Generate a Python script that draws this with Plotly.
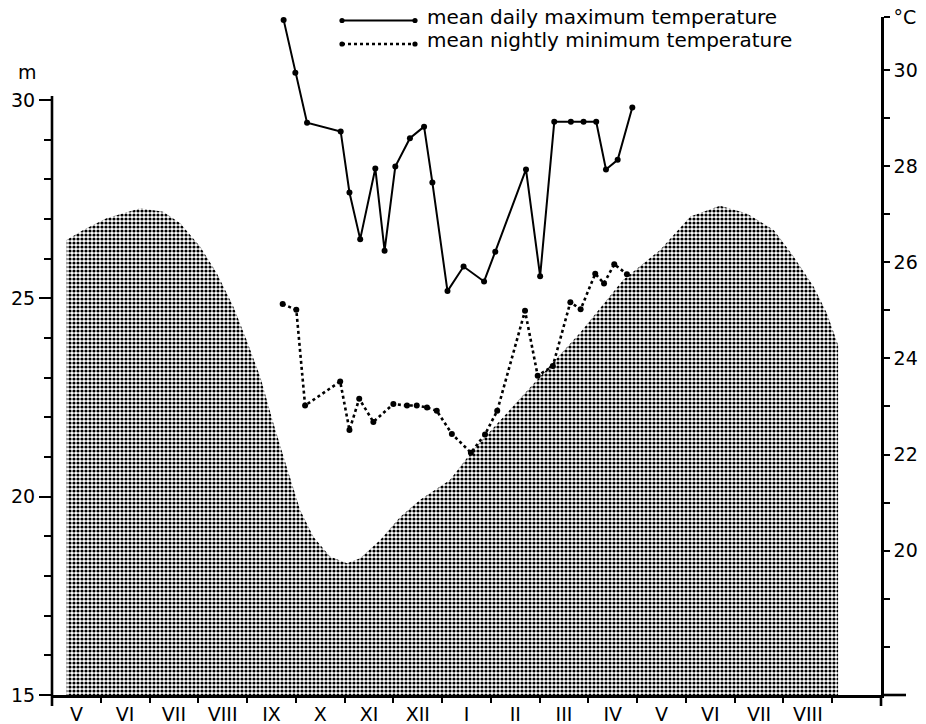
import plotly.graph_objects as go

# ---- data -------------------------------------------------------------
# x positions are in months counted from 1 May of the first year
month_labels = ["V", "VI", "VII", "VIII", "IX", "X", "XI", "XII",
                "I", "II", "III", "IV", "V", "VI", "VII", "VIII"]

# water level (m)
level_month = [0.30, 0.64, 1.12, 1.81, 2.28, 2.63, 3.04, 3.38, 3.72, 3.99,
               4.27, 4.54, 4.81, 5.09, 5.36, 5.70, 6.05, 6.32, 6.73, 7.14,
               7.55, 8.16, 8.64, 9.94, 10.83, 11.71, 12.47, 13.09, 13.70,
               14.25, 14.80, 15.21, 15.62, 15.89, 16.12]
level_m = [26.47, 26.72, 27.02, 27.27, 27.18, 26.89, 26.30, 25.63, 24.79,
           23.95, 23.02, 21.85, 20.76, 19.66, 18.99, 18.49, 18.32, 18.45,
           18.91, 19.49, 19.92, 20.42, 21.18, 22.94, 24.13, 25.46, 26.22,
           27.06, 27.33, 27.14, 26.72, 26.05, 25.29, 24.62, 23.82]

# mean daily maximum temperature (deg C)
tmax_month = [4.75, 4.99, 5.23, 5.92, 6.10, 6.32, 6.63, 6.82, 7.04, 7.34,
              7.63, 7.80, 8.11, 8.44, 8.86, 9.09, 9.72, 10.01, 10.30, 10.64,
              10.90, 11.16, 11.36, 11.60, 11.90]
tmax_c = [31.04, 29.94, 28.90, 28.72, 27.45, 26.48, 27.95, 26.24, 27.99,
          28.58, 28.82, 27.66, 25.40, 25.91, 25.60, 26.22, 27.93, 25.71,
          28.92, 28.92, 28.92, 28.92, 27.93, 28.13, 29.22]

# mean nightly minimum temperature (deg C)
tmin_month = [4.73, 5.01, 5.19, 5.91, 6.10, 6.30, 6.59, 7.00, 7.28, 7.48,
              7.69, 7.89, 8.20, 8.59, 8.88, 9.13, 9.70, 9.96, 10.27, 10.63,
              10.84, 11.14, 11.32, 11.53, 11.79]
tmin_c = [25.13, 25.01, 23.02, 23.52, 22.51, 23.16, 22.68, 23.05, 23.02,
          23.02, 22.98, 22.91, 22.43, 22.04, 22.42, 22.91, 24.99, 23.64,
          23.84, 25.17, 25.02, 25.76, 25.56, 25.96, 25.75]

legend_labels = ["mean daily maximum temperature",
                 "mean nightly minimum temperature"]

# ---- layout geometry (pixels) -----------------------------------------
W, H = 926, 724
ML, MR, MT, MB = 52, 45, 17, 29
PW, PH = W - ML - MR, H - MT - MB
X_RANGE = [0, 17]
T_RANGE = [17, 31.1]
M_PER_PX = 1 / 39.67
M_RANGE = [15, 15 + PH * M_PER_PX]

FONT = "DejaVu Sans"
INK = "black"


def px_x(px):
    return (px - ML) / PW


def px_y(py):
    return (H - MB - py) / PH


fig = go.Figure()

# shaded water level
fig.add_trace(go.Scatter(
    x=level_month, y=level_m, yaxis="y", mode="lines",
    line=dict(width=0, color="rgba(0,0,0,0)"), fill="tozeroy",
    fillpattern=dict(shape=".", fgcolor=INK, bgcolor="white",
                     size=4, solidity=0.5, fillmode="replace"),
    showlegend=False, hoverinfo="skip"))

# temperatures
fig.add_trace(go.Scatter(
    x=tmax_month, y=tmax_c, yaxis="y2", mode="lines+markers",
    line=dict(color=INK, width=2), marker=dict(color=INK, size=6),
    cliponaxis=False, showlegend=False, name=legend_labels[0]))
fig.add_trace(go.Scatter(
    x=tmin_month, y=tmin_c, yaxis="y2", mode="lines+markers",
    line=dict(color=INK, width=2.6, dash="dot"),
    marker=dict(color=INK, size=6),
    cliponaxis=False, showlegend=False, name=legend_labels[1]))

shapes = []
# left axis line (stops just above the 30 m tick), running a little below x axis
shapes.append(dict(type="line", xref="paper", yref="paper",
                   x0=0, x1=0, y0=px_y(706), y1=px_y(96),
                   line=dict(color=INK, width=2.6)))
# right axis runs a little below the x axis
shapes.append(dict(type="line", xref="paper", yref="paper",
                   x0=1, x1=1, y0=px_y(706), y1=0,
                   line=dict(color=INK, width=2.6)))
# x axis continues past the right axis
shapes.append(dict(type="line", xref="paper", yref="paper",
                   x0=1, x1=px_x(906), y0=0, y1=0,
                   line=dict(color=INK, width=2.6)))

# legend keys
key_x0, key_x1 = px_x(342), px_x(415)
for row, (py, dash) in enumerate([(20.5, "solid"), (44, "dot")]):
    yy = px_y(py)
    shapes.append(dict(type="line", xref="paper", yref="paper",
                       x0=key_x0, x1=key_x1, y0=yy, y1=yy,
                       line=dict(color=INK, width=2 if dash == "solid" else 2.6,
                                 dash=dash)))
    for kx in (342, 415):
        r = 2.6
        shapes.append(dict(type="circle", xref="paper", yref="paper",
                           x0=px_x(kx - r), x1=px_x(kx + r),
                           y0=px_y(py + r), y1=px_y(py - r),
                           fillcolor=INK, line=dict(width=0)))

annotations = []
for py, text in zip([17, 40.5], legend_labels):
    annotations.append(dict(text=text, xref="paper", yref="paper",
                            x=px_x(425), y=px_y(py), xanchor="left",
                            yanchor="middle", showarrow=False,
                            font=dict(family=FONT, size=20, color=INK)))
annotations.append(dict(text="m", xref="paper", yref="paper",
                        x=px_x(27), y=px_y(72), xanchor="center",
                        yanchor="middle", showarrow=False,
                        font=dict(family=FONT, size=19, color=INK)))

left_major = [15, 20, 25, 30]
left_minor = [v for v in range(16, 30) if v % 5]
right_vals = list(range(18, 31)) + [T_RANGE[1]]
right_text = [str(v) if v % 2 == 0 and v >= 20 else "" for v in range(18, 31)] + ["°C"]

fig.update_layout(
    width=W, height=H,
    margin=dict(l=ML, r=MR, t=MT, b=MB, pad=0, autoexpand=False),
    paper_bgcolor="white", plot_bgcolor="rgba(0,0,0,0)",
    font=dict(family=FONT, size=19, color=INK),
    showlegend=False,
    xaxis=dict(
        range=X_RANGE, showgrid=False, zeroline=False, automargin=False,
        showline=True, linecolor=INK, linewidth=2.6,
        tickmode="array",
        tickvals=[i + 0.5 for i in range(len(month_labels))],
        ticktext=month_labels,
        ticks="", ticklen=0,
        tickfont=dict(family=FONT, size=19, color=INK),
        minor=dict(tickmode="array",
                   tickvals=list(range(1, len(month_labels) + 1)),
                   ticks="outside", ticklen=5, tickwidth=2, tickcolor=INK,
                   showgrid=False),
        fixedrange=True),
    yaxis=dict(
        range=M_RANGE, showgrid=False, zeroline=False, showline=False,
        automargin=False,
        tickmode="array", tickvals=left_major,
        ticktext=[str(v) for v in left_major],
        ticks="outside", ticklen=12, tickwidth=2, tickcolor=INK,
        tickfont=dict(family=FONT, size=19, color=INK),
        minor=dict(tickmode="array", tickvals=left_minor,
                   ticks="outside", ticklen=7, tickwidth=2, tickcolor=INK,
                   showgrid=False),
        fixedrange=True),
    yaxis2=dict(
        range=T_RANGE, overlaying="y", side="right", anchor="x",
        showgrid=False, zeroline=False, automargin=False,
        showline=True, linecolor=INK, linewidth=2.6,
        tickmode="array", tickvals=right_vals, ticktext=right_text,
        ticks="outside", ticklen=6, tickwidth=2, tickcolor=INK,
        tickfont=dict(family=FONT, size=19, color=INK),
        fixedrange=True),
    shapes=shapes,
    annotations=annotations,
)

fig.write_html("out.html")
